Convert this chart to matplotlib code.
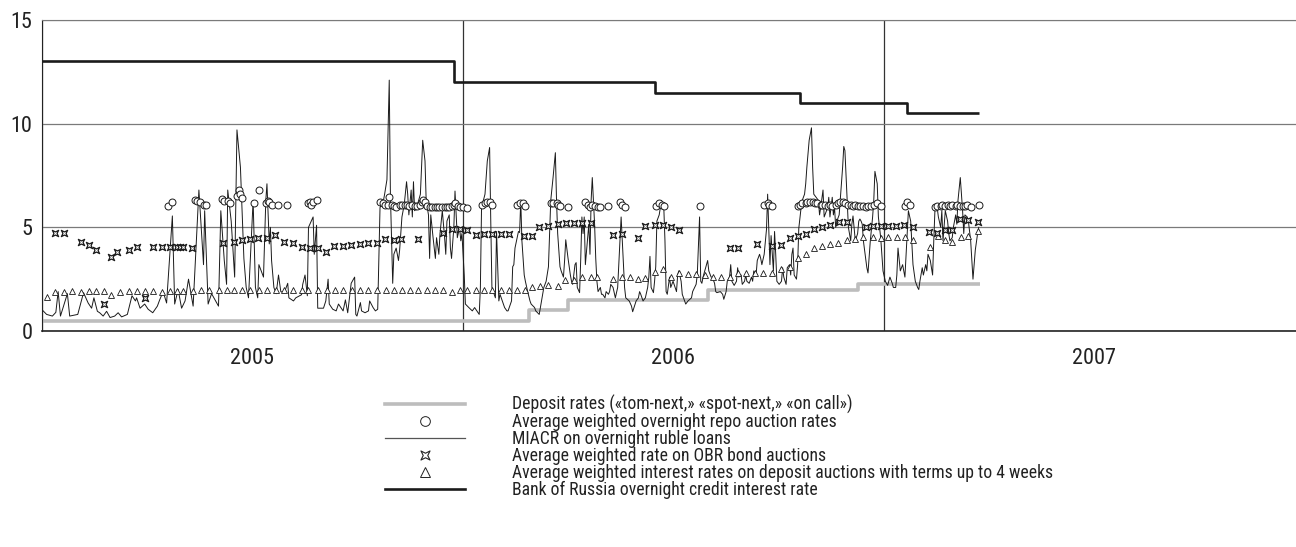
import pandas as pd
import matplotlib
matplotlib.use('Agg')
import matplotlib.pyplot as plt
from matplotlib.path import Path
from matplotlib.lines import Line2D

plt.rcParams['font.family'] = ['Roboto Condensed', 'Liberation Sans Narrow', 'Liberation Sans', 'DejaVu Sans']

# x values are days counted from 1 January 2005
miacr_day = [
    1, 4, 9, 12, 14, 16, 22, 24, 31, 36, 40, 43, 45, 48, 50, 53, 56, 59, 63, 66,
    69, 74, 78, 81, 82, 85, 89, 92, 96, 100, 102, 105, 108, 113, 115, 118, 121, 124, 127, 131,
    136, 140, 141, 144, 147, 149, 153, 155, 158, 160, 161, 164, 167, 169, 172, 175, 177, 179, 183, 185,
    187, 188, 192, 194, 195, 197, 198, 199, 201, 203, 205, 207, 210, 213, 214, 218, 220, 225, 226, 228,
    230, 231, 235, 236, 238, 239, 244, 246, 248, 249, 252, 255, 257, 261, 263, 265, 268, 271, 272, 273,
    276, 277, 280, 283, 284, 287, 289, 291, 293, 296, 297, 299, 301, 302, 304, 305, 307, 309, 310, 312,
    314, 316, 317, 318, 320, 321, 322, 323, 325, 328, 330, 332, 333, 335, 336, 337, 339, 341, 342, 344,
    345, 347, 349, 350, 351, 353, 354, 355, 357, 358, 360, 362, 363, 364, 366, 367, 370, 373, 375, 379,
    380, 381, 384, 386, 388, 389, 390, 393, 394, 396, 397, 401, 403, 404, 407, 408, 409, 410, 413, 414,
    415, 416, 418, 419, 421, 423, 424, 427, 428, 431, 433, 435, 437, 439, 440, 441, 443, 445, 446, 447,
    449, 450, 452, 453, 454, 456, 458, 459, 460, 462, 463, 464, 466, 467, 468, 469, 470, 471, 473, 474,
    475, 476, 477, 479, 480, 481, 482, 484, 485, 486, 488, 489, 491, 492, 493, 495, 497, 499, 502, 504,
    505, 506, 509, 511, 512, 515, 517, 518, 519, 521, 523, 525, 526, 527, 528, 530, 531, 532, 533, 535,
    537, 538, 539, 540, 541, 542, 544, 545, 547, 550, 551, 552, 554, 555, 557, 558, 560, 563, 564, 567,
    568, 570, 571, 572, 573, 576, 577, 578, 580, 581, 583, 584, 585, 588, 590, 591, 593, 594, 596, 597,
    598, 600, 602, 603, 604, 606, 607, 609, 610, 611, 613, 615, 616, 617, 619, 620, 622, 623, 624, 626,
    628, 629, 630, 631, 632, 634, 635, 636, 637, 639, 641, 642, 643, 645, 646, 648, 649, 650, 651, 652,
    654, 655, 656, 658, 659, 661, 662, 663, 665, 667, 668, 669, 671, 673, 674, 675, 677, 678, 681, 682,
    683, 685, 686, 687, 688, 689, 691, 694, 695, 696, 698, 699, 701, 702, 703, 705, 707, 708, 709, 710,
    711, 712, 714, 715, 716, 718, 720, 721, 722, 724, 725, 727, 728, 729, 731, 733, 734, 735, 737, 738,
    740, 741, 742, 744, 746, 747, 748, 750, 751, 753, 754, 755, 757, 759, 760, 761, 763, 764, 766, 767,
    768, 770, 772, 773, 774, 776, 777, 779, 780, 781, 783, 785, 786, 787, 789, 790, 792, 793, 794, 796,
    798, 799, 800, 802, 803, 805, 806, 807, 809, 811, 812]
miacr_rate = [
    0.97, 0.8, 0.72, 0.9, 1.9, 0.72, 1.8, 0.72, 0.8, 1.85, 1.35, 1.1, 1.6, 0.95, 0.88, 0.72, 0.95, 0.65, 0.72, 0.88,
    0.68, 0.8, 1.7, 1.45, 1.6, 1.1, 1.3, 1.05, 0.88, 1.2, 1.5, 1.9, 1.35, 5.55, 1.3, 2.0, 1.1, 1.45, 2.5, 1.2,
    6.8, 3.2, 5.8, 1.3, 1.8, 1.6, 1.2, 5.8, 3.4, 2.25, 6.8, 5.3, 2.6, 9.7, 7.9, 3.5, 2.1, 1.6, 6.3, 2.1,
    1.6, 3.2, 2.6, 6.3, 7.1, 4.2, 5.0, 3.4, 2.1, 1.8, 2.7, 1.9, 1.85, 2.3, 1.6, 1.45, 1.6, 1.75, 2.25, 2.7,
    1.7, 5.0, 5.5, 3.7, 5.1, 1.1, 1.1, 1.45, 2.5, 1.3, 1.05, 0.97, 1.3, 0.97, 1.5, 0.88, 2.3, 2.6, 0.8, 0.72,
    1.37, 0.97, 0.88, 0.97, 1.45, 1.13, 0.97, 1.05, 5.95, 6.3, 6.6, 7.3, 12.1, 6.6, 2.3, 3.7, 4.0, 3.4, 3.9, 5.5,
    6.1, 7.2, 6.6, 5.6, 6.8, 5.5, 7.2, 5.8, 6.0, 6.6, 9.2, 8.2, 6.3, 5.6, 3.5, 5.6, 4.5, 3.5, 4.5, 3.7,
    4.7, 5.8, 4.5, 3.7, 5.3, 5.6, 4.0, 3.5, 5.0, 6.75, 4.5, 5.0, 4.35, 4.7, 2.7, 1.3, 1.13, 0.97, 1.13, 0.8,
    2.1, 5.95, 6.6, 8.2, 8.85, 5.3, 2.1, 1.6, 4.8, 1.45, 1.77, 1.13, 0.97, 0.97, 1.45, 3.1, 3.2, 4.0, 4.8, 4.75,
    6.3, 4.35, 2.7, 2.4, 1.9, 1.45, 1.3, 1.13, 0.97, 0.8, 1.45, 2.1, 2.4, 3.1, 4.7, 6.3, 7.4, 8.6, 6.3, 4.7,
    3.1, 2.9, 2.6, 3.4, 4.4, 3.5, 2.7, 2.4, 2.25, 3.2, 3.3, 2.1, 1.85, 3.5, 5.5, 4.7, 5.5, 3.2, 4.5, 5.15,
    3.7, 6.3, 7.4, 5.15, 3.5, 2.4, 1.9, 2.1, 1.77, 1.77, 1.6, 1.9, 1.77, 1.9, 2.25, 2.1, 1.6, 2.1, 5.5, 3.2,
    2.1, 1.6, 1.45, 1.2, 0.93, 1.45, 1.6, 1.9, 1.77, 1.45, 1.6, 2.1, 2.6, 3.6, 2.1, 1.85, 2.4, 3.1, 5.3, 5.6,
    6.3, 5.95, 5.95, 4.35, 1.9, 1.77, 2.6, 2.1, 2.4, 1.9, 2.7, 2.9, 2.4, 1.77, 1.45, 1.3, 1.45, 1.6, 1.9, 2.25,
    2.7, 5.5, 2.4, 2.3, 2.6, 3.2, 3.4, 2.9, 2.6, 2.6, 2.3, 1.9, 1.85, 1.9, 1.77, 1.53, 1.9, 2.4, 2.6, 3.2,
    2.4, 2.2, 2.4, 3.05, 2.6, 2.7, 2.25, 2.4, 2.7, 2.4, 2.3, 2.6, 2.4, 2.9, 2.7, 3.4, 3.7, 3.5, 3.2, 3.7,
    4.9, 6.6, 4.9, 3.2, 4.6, 2.9, 4.8, 3.7, 2.4, 2.25, 2.4, 3.05, 2.6, 2.25, 3.05, 3.2, 2.7, 3.7, 4.0, 2.7,
    2.5, 3.2, 4.95, 5.95, 6.3, 6.6, 7.1, 7.9, 9.2, 9.8, 7.9, 6.6, 6.45, 6.3, 5.6, 5.95, 6.8, 5.5, 5.95, 6.45,
    5.5, 6.45, 5.6, 5.95, 5.0, 5.3, 5.6, 7.9, 8.9, 8.7, 6.3, 5.0, 4.35, 5.15, 5.55, 4.35, 4.7, 5.3, 5.4, 5.3,
    5.15, 4.35, 3.5, 3.05, 2.8, 4.35, 5.5, 6.3, 7.7, 7.1, 5.5, 4.5, 3.7, 2.9, 2.4, 2.2, 2.4, 2.6, 2.3, 2.1,
    2.1, 2.7, 4.0, 2.9, 3.2, 2.9, 2.6, 4.7, 5.8, 5.3, 4.2, 3.2, 2.4, 2.1, 2.0, 2.4, 3.05, 2.7, 3.2, 2.9,
    3.7, 3.4, 2.7, 4.35, 5.8, 5.95, 5.5, 5.0, 5.8, 4.35, 5.8, 5.3, 4.7, 4.35, 4.5, 5.0, 5.6, 5.15, 6.3, 7.4,
    5.8, 4.7, 5.6, 5.5, 5.3, 4.35, 3.4, 2.5, 3.9, 4.7, 5.0]

repo_day = [
    109, 113, 133, 134, 137, 140, 142, 156, 158, 161, 163, 169, 171, 172, 173, 184, 188,
    194, 196, 197, 199, 205, 212, 231, 232, 233, 235, 238,
    293, 296, 297, 300, 301, 303, 305, 307, 310, 312, 315, 316, 318, 321, 323, 325, 328, 329, 330,
    332, 334, 336, 338, 341, 342, 344, 347, 349, 351, 353, 355, 357, 358, 361, 362, 365, 368,
    381, 384, 386, 388, 390, 412, 414, 417, 419, 441, 443, 446, 447, 449, 456,
    471, 473, 475, 477, 479, 482, 484, 491, 501, 503, 505, 532, 535, 537, 539, 570,
    626, 629, 630, 633,
    655, 657, 659, 662, 663, 666, 668, 670, 672, 675, 676, 679, 681, 683, 685, 688, 690,
    692, 694, 696, 699, 701, 703, 705, 707, 709, 712, 714, 716, 719, 721, 724, 727,
    748, 750, 752, 774, 776, 779, 780, 783, 785, 787, 789, 792, 793, 796, 798, 800, 802, 805, 812]
repo_rate = [
    6.04, 6.2, 6.3, 6.25, 6.2, 6.1, 6.1, 6.36, 6.25, 6.28, 6.18, 6.5, 6.8, 6.6, 6.4, 6.17, 6.8,
    6.15, 6.28, 6.2, 6.1, 6.1, 6.1, 6.15, 6.2, 6.1, 6.2, 6.3,
    6.2, 6.15, 6.1, 6.1, 6.45, 6.1, 6.05, 6.0, 6.1, 6.1, 6.1, 6.1, 6.05, 6.1, 6.05, 6.05, 6.1, 6.2, 6.3,
    6.2, 6.05, 6.0, 6.0, 6.0, 6.0, 6.0, 6.0, 6.0, 6.0, 6.0, 6.05, 6.1, 6.15, 6.05, 6.0, 6.0, 5.95,
    6.1, 6.15, 6.2, 6.2, 6.1, 6.1, 6.15, 6.15, 6.05, 6.15, 6.15, 6.15, 6.1, 6.05, 6.0,
    6.2, 6.1, 6.0, 6.1, 6.05, 6.0, 6.0, 6.05, 6.2, 6.1, 6.0, 6.05, 6.15, 6.1, 6.05, 6.05,
    6.1, 6.15, 6.1, 6.05,
    6.05, 6.1, 6.15, 6.15, 6.2, 6.2, 6.2, 6.15, 6.15, 6.1, 6.1, 6.1, 6.05, 6.1, 6.05, 6.1, 6.15,
    6.2, 6.2, 6.15, 6.1, 6.1, 6.05, 6.1, 6.05, 6.05, 6.05, 6.0, 6.05, 6.05, 6.1, 6.15, 6.05,
    6.05, 6.2, 6.1, 6.0, 6.05, 6.05, 6.1, 6.05, 6.1, 6.05, 6.1, 6.05, 6.1, 6.05, 6.05, 6.05, 6.1, 6.0, 6.1]

obr_day = [
    11, 19, 34, 41, 47, 54, 60, 65, 75, 82, 89, 96, 104, 111, 117, 120, 122, 130,
    157, 166, 173, 180, 187, 195, 202, 210, 218, 225, 232, 239, 246, 253, 261, 268, 276, 283, 290, 297,
    305, 311, 326, 348, 355, 362, 368, 376, 383, 390, 398, 405, 418, 425, 431, 439, 447, 454, 461, 468,
    476, 495, 503, 517, 523, 531, 538, 545, 552, 596, 603, 620, 633, 641, 648, 655, 662, 669, 676, 683,
    691, 698, 714, 720, 727, 733, 740, 747, 755, 769, 776, 783, 789, 796, 803, 811]
obr_rate = [
    4.75, 4.75, 4.3, 4.15, 3.9, 1.28, 3.55, 3.8, 3.9, 4.05, 1.6, 4.05, 4.05, 4.05, 4.05, 4.05, 4.05, 4.0,
    4.25, 4.28, 4.4, 4.45, 4.5, 4.5, 4.65, 4.3, 4.25, 4.05, 4.0, 4.0, 3.8, 4.1, 4.1, 4.15, 4.2, 4.25, 4.25, 4.45,
    4.4, 4.45, 4.45, 4.75, 4.9, 4.9, 4.85, 4.65, 4.7, 4.7, 4.7, 4.7, 4.6, 4.6, 5.0, 5.05, 5.15, 5.2, 5.2, 5.2,
    5.2, 4.65, 4.7, 4.5, 5.05, 5.1, 5.1, 5.0, 4.88, 4.0, 4.0, 4.2, 4.1, 4.15, 4.5, 4.58, 4.7, 4.9, 5.0, 5.1,
    5.25, 5.25, 5.03, 5.05, 5.05, 5.05, 5.05, 5.1, 5.0, 4.78, 4.72, 4.85, 4.88, 5.38, 5.35, 5.28]

auction_day = [
    4, 11, 19, 26, 34, 41, 47, 54, 60, 68,
    75, 82, 89, 96, 104, 111, 117, 122, 131, 138,
    145, 153, 160, 166, 173, 180, 188, 195, 203, 210,
    218, 225, 231, 239, 247, 254, 261, 269, 276, 283,
    290, 298, 305, 312, 319, 326, 334, 341, 348, 355,
    362, 368, 376, 383, 390, 398, 405, 412, 419, 425,
    432, 439, 447, 453, 461, 468, 476, 481, 495, 503,
    510, 517, 523, 531, 538, 545, 552, 560, 567, 575,
    582, 589, 596, 603, 610, 618, 625, 633, 641, 648,
    655, 662, 669, 676, 683, 690, 698, 705, 712, 720,
    727, 733, 741, 748, 755, 770, 777, 783, 789, 797,
    803, 811]
auction_rate = [
    1.65, 1.87, 1.9, 1.93, 1.9, 1.95, 1.93, 1.93, 1.76, 1.9,
    1.93, 1.95, 1.93, 1.93, 1.9, 1.93, 1.95, 1.95, 1.95, 1.96,
    1.96, 1.96, 1.96, 1.96, 1.96, 1.96, 1.96, 1.96, 1.96, 1.96,
    1.96, 1.96, 1.96, 1.96, 1.96, 1.96, 1.96, 1.96, 1.96, 1.96,
    1.96, 1.96, 1.96, 1.96, 1.96, 1.96, 1.96, 1.96, 1.96, 1.9,
    1.96, 1.96, 1.96, 1.96, 1.96, 1.96, 1.96, 1.96, 1.98, 2.12,
    2.15, 2.2, 2.15, 2.45, 2.45, 2.6, 2.6, 2.6, 2.5, 2.6,
    2.6, 2.5, 2.55, 2.85, 3.0, 2.6, 2.8, 2.75, 2.75, 2.7,
    2.6, 2.6, 2.6, 2.8, 2.8, 2.8, 2.8, 2.8, 3.0, 3.1,
    3.5, 3.7, 4.0, 4.1, 4.2, 4.25, 4.4, 4.45, 4.55, 4.55,
    4.5, 4.55, 4.55, 4.55, 4.4, 4.05, 4.6, 4.38, 4.28, 4.55,
    4.6, 4.8]

deposit_day = [0, 422, 456, 577, 707, 813]
deposit_rate = [0.5, 1.0, 1.5, 2.0, 2.25, 2.25]

credit_day = [0, 357, 531, 657, 750, 812]
credit_rate = [13, 12, 11.5, 11, 10.5, 10.5]

labels = ['Deposit rates («tom-next,» «spot-next,» «on call»)',
          'Average weighted overnight repo auction rates',
          'MIACR on overnight ruble loans',
          'Average weighted rate on OBR bond auctions',
          'Average weighted interest rates on deposit auctions with terms up to 4 weeks',
          'Bank of Russia overnight credit interest rate']
years = ['2005', '2006', '2007']

start = pd.Timestamp('2005-01-01')


def to_dates(days):
    return start + pd.to_timedelta(days, unit='D')


obr_marker = Path([(-1, -1), (0, -0.5), (1, -1), (0.5, 0), (1, 1), (0, 0.5),
                   (-1, 1), (-0.5, 0), (-1, -1)], closed=True)

fig = plt.figure(figsize=(12.96, 5.47), dpi=100)
ax = fig.add_axes([42 / 1296, 1 - 331 / 547, 1 - 42 / 1296, 311 / 547])

ax.plot(to_dates(deposit_day), deposit_rate, color='#bdbdbd', lw=2.6,
        drawstyle='steps-post', solid_capstyle='butt', zorder=2)
ax.plot(to_dates(credit_day), credit_rate, color='#1a1a1a', lw=1.9,
        drawstyle='steps-post', solid_capstyle='butt', zorder=3)
ax.plot(to_dates(miacr_day), miacr_rate, color='#1a1a1a', lw=0.7, zorder=3)
ax.plot(to_dates(auction_day), auction_rate, ls='none', marker='^', ms=4.5,
        mfc='white', mec='#1a1a1a', mew=0.6, zorder=4)
ax.plot(to_dates(obr_day), obr_rate, ls='none', marker=obr_marker, ms=4.5,
        mfc='white', mec='#1a1a1a', mew=0.9, zorder=4)
ax.plot(to_dates(repo_day), repo_rate, ls='none', marker='o', ms=5,
        mfc='white', mec='#1a1a1a', mew=0.7, zorder=5)

ax.set_ylim(0, 15)
ax.set_yticks([0, 5, 10, 15])
ax.set_xlim(start, start + pd.Timedelta(days=1087))
year_starts = [pd.Timestamp(y + '-01-01') for y in years]
ax.set_xticks(year_starts)
ax.set_xticklabels([])
ax.set_xticks([pd.Timestamp(y + '-07-02') for y in years], minor=True)
ax.set_xticklabels(years, minor=True)
ax.tick_params(which='both', length=0, labelsize=16, colors='#222222')
ax.tick_params(axis='x', which='minor', pad=12)
ax.tick_params(axis='y', pad=7)

ax.yaxis.grid(True, color='#7a7a7a', lw=0.9)
ax.xaxis.grid(True, which='major', color='#333333', lw=0.9)
ax.set_axisbelow(True)
ax.spines['right'].set_visible(False)
ax.spines['top'].set_color('#7a7a7a')
ax.spines['left'].set_color('#222222')
ax.spines['bottom'].set_color('#222222')
ax.spines['bottom'].set_linewidth(1.2)

handles = [
    Line2D([], [], color='#bdbdbd', lw=2.6),
    Line2D([], [], ls='none', marker='o', ms=7, mfc='white', mec='#222222', mew=0.7),
    Line2D([], [], color='#555555', lw=0.9),
    Line2D([], [], ls='none', marker=obr_marker, ms=6.5, mfc='white', mec='#222222', mew=0.8),
    Line2D([], [], ls='none', marker='^', ms=7, mfc='white', mec='#222222', mew=0.7),
    Line2D([], [], color='#1a1a1a', lw=1.9),
]
fs = 12.7
fs_px = fs * 100 / 72
fig.legend(handles, labels, loc='upper left', bbox_to_anchor=(385 / 1296, 1 - 395 / 547),
           frameon=False, fontsize=fs, handlelength=80 / fs_px, handletextpad=47 / fs_px,
           labelspacing=-0.06, borderpad=0, borderaxespad=0, labelcolor='#222222')

fig.savefig('out.png', dpi=100)
